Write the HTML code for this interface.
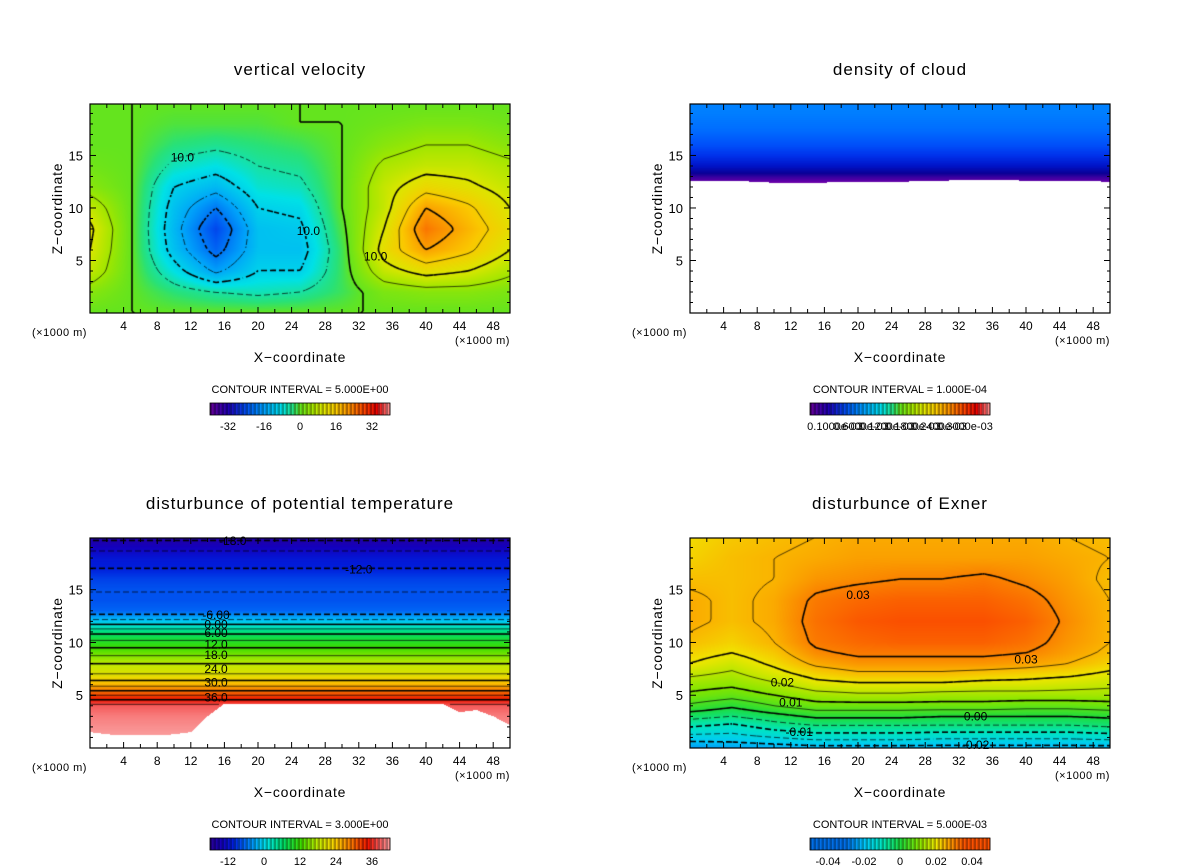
<!DOCTYPE html>
<html><head><meta charset="utf-8"><style>
html,body{margin:0;padding:0;background:#fff;width:1200px;height:868px;overflow:hidden}
canvas{position:absolute}
svg{position:absolute;left:0;top:0}
</style></head><body>
<canvas id="c0" width="420" height="209" style="left:90px;top:104px"></canvas>
<canvas id="c1" width="420" height="209" style="left:690px;top:104px"></canvas>
<canvas id="c2" width="420" height="210" style="left:90px;top:538px"></canvas>
<canvas id="c3" width="420" height="210" style="left:690px;top:538px"></canvas>
<svg id="ov" width="1200" height="868" font-family="Liberation Sans, sans-serif"></svg>
<script>
// ---------- DATA ----------
const wX=[0,5,10,15,20,25,30,35,40,45,50];
const wZ=[0,2,4,6,8,10,12,14,16,18,20];
const wVals=[
[0,0,0,0,0,0,0,0,0,0,0],
[3,0,-3,-5,-6,-5,-2,2,3,3,2],
[8,0,-8,-16,-10,-10,-2,8,12,10,6],
[10,0,-12,-22,-12,-12,-2,12,20,16,10],
[11,0,-13,-25,-12,-11,-1,10,24,18,12],
[8,0,-12,-20,-10,-9,0,8,20,16,10],
[3,0,-10,-13,-7,-6,0,8,13,11,8],
[1,0,-6,-8,-5,-4,0,6,8,8,6],
[0,0,-3,-4,-3,-2,0,3,5,5,3],
[0,0,-1,-1,-1,0,0,1,2,2,1],
[0,0,0,0,0,0,0,0,0,0,0]];
const cloudZ=[12.4,12.9,13.3,14,15,16,17,18,19,20];
const cloudVal=[0.1,0.15,0.2,0.25,0.32,0.4,0.47,0.53,0.58,0.6];
const cloudBaseX=[0,5,10,15,20,25,30,35,40,45,50];
const cloudBase=[12.6,12.6,12.4,12.4,12.5,12.5,12.6,12.7,12.6,12.6,12.5];
const thZ=[0,1,2,3,4,5,6,7,8,9,10,11,12,13,14,15,16,17,18,19,20];
const thVal=[45,44,43,42,40,33,26,21,18,14,10,5,-2,-8,-9,-9,-10,-12,-13,-16,-19];
const thMaskX=[0,2,4,6,8,10,12,14,16,18,20,22,24,26,28,30,32,34,36,38,40,42,44,46,48,50];
const thMask=[1.5,1.3,1.2,1.2,1.2,1.3,1.5,3.0,4.2,4.2,4.2,4.2,4.2,4.2,4.2,4.2,4.2,4.2,4.2,4.2,4.2,4.2,3.4,3.6,3.0,2.2];
const exX=[0,5,10,15,20,25,30,35,40,45,50];
const exZ=[0,1,2,3,4,5,6,7,8,9,10,12,14,16,18,20];
const exVals=[
[-.025,-.024,-.023,-.022,-.022,-.022,-.022,-.022,-.022,-.022,-.022],
[-.017,-.017,-.015,-.013,-.013,-.013,-.014,-.014,-.014,-.014,-.013],
[-.010,-.012,-.008,-.006,-.006,-.006,-.006,-.006,-.006,-.006,-.005],
[-.003,-.005,-.002,.001,.001,.001,.000,.000,.000,.000,.001],
[.004,.001,.005,.008,.008,.008,.008,.008,.007,.007,.008],
[.009,.007,.010,.013,.014,.014,.013,.013,.013,.013,.013],
[.012,.011,.014,.018,.019,.019,.019,.018,.018,.017,.016],
[.016,.014,.018,.022,.024,.024,.024,.023,.022,.021,.019],
[.020,.017,.021,.026,.028,.028,.028,.028,.027,.025,.022],
[.022,.020,.023,.029,.031,.031,.031,.031,.030,.027,.024],
[.024,.022,.025,.031,.033,.034,.034,.034,.032,.028,.025],
[.026,.024,.026,.032,.035,.036,.036,.036,.034,.029,.025],
[.026,.024,.026,.031,.033,.034,.034,.034,.032,.028,.025],
[.024,.024,.025,.028,.029,.030,.030,.031,.029,.027,.024],
[.022,.024,.025,.026,.027,.027,.027,.027,.027,.026,.025],
[.021,.023,.024,.025,.026,.026,.026,.026,.026,.025,.024]];
const xTicks=[4,8,12,16,20,24,28,32,36,40,44,48];
const zTicks=[5,10,15];
const titles=["vertical velocity","density of cloud","disturbunce of potential temperature","disturbunce of Exner"];
const intervals=["CONTOUR INTERVAL = 5.000E+00","CONTOUR INTERVAL = 1.000E-04","CONTOUR INTERVAL = 3.000E+00","CONTOUR INTERVAL = 5.000E-03"];
const cbLabels=[["-32","-16","0","16","32"],["0.1000e-03","0.6000e-03","0.1200e-03","0.1800e-03","0.2400e-03","0.3000e-03"],["-12","0","12","24","36"],["-0.04","-0.02","0","0.02","0.04"]];
// ---------- colour maps ----------
const wStops=[[-40,100,0,150],[-32,30,0,180],[-24,0,80,240],[-16,0,160,250],[-8,0,225,230],[-3,40,225,120],[0,100,228,30],[5,160,230,0],[10,220,230,0],[16,250,200,0],[22,250,140,0],[28,250,70,0],[34,230,0,0],[40,250,150,150]];
const thStops=[[-20,40,0,150],[-16,20,0,190],[-12,0,30,220],[-8,0,100,245],[-4,0,170,250],[0,0,230,230],[6,0,220,100],[12,60,220,0],[18,190,235,0],[24,250,210,0],[30,250,120,0],[36,240,20,0],[40,245,90,90],[44,250,160,160]];
const exStops=[[-0.03,0,110,230],[-0.025,0,150,240],[-0.02,0,200,250],[-0.01,0,230,190],[0,30,220,60],[0.01,130,230,0],[0.02,240,230,0],[0.025,250,180,0],[0.03,250,130,0],[0.036,250,80,0]];
const clStops=[[0.1,110,0,170],[0.15,60,0,160],[0.2,10,0,150],[0.25,0,20,200],[0.32,0,50,235],[0.4,0,80,250],[0.5,0,110,255],[0.6,0,130,255]];
function cmap(st,v){if(v<=st[0][0])return st[0].slice(1);for(let i=1;i<st.length;i++){if(v<=st[i][0]){const a=st[i-1],b=st[i],t=(v-a[0])/(b[0]-a[0]);return [a[1]+t*(b[1]-a[1]),a[2]+t*(b[2]-a[2]),a[3]+t*(b[3]-a[3])];}}return st[st.length-1].slice(1);}
function seg(arr,v){let i=0;while(i<arr.length-2&&v>arr[i+1])i++;let t=(v-arr[i])/(arr[i+1]-arr[i]);t=Math.max(0,Math.min(1,t));return [i,t];}
function interp1(xs,ys,v){const [i,t]=seg(xs,v);return ys[i]+t*(ys[i+1]-ys[i]);}
function interp2(xs,zs,g,x,z){const [i,tx]=seg(xs,x),[j,tz]=seg(zs,z);const a=g[j][i],b=g[j][i+1],c=g[j+1][i],d=g[j+1][i+1];return (a*(1-tx)+b*tx)*(1-tz)+(c*(1-tx)+d*tx)*tz;}
const ZMAX=19.9;
const fields=[
 {f:(x,z)=>interp2(wX,wZ,wVals,x,z),st:wStops,levels:[-20,-15,-10,-5,0,5,10,15,20],bold:v=>v%10===0},
 {f:(x,z)=>z<interp1(cloudBaseX,cloudBase,x)?NaN:interp1(cloudZ,cloudVal,z),st:clStops,levels:[],bold:v=>false},
 {f:(x,z)=>z<interp1(thMaskX,thMask,x)?NaN:interp1(thZ,thVal,z),st:thStops,levels:[-18,-15,-12,-9,-6,-3,0,3,6,9,12,15,18,21,24,27,30,33,36,39],bold:v=>v%6===0},
 {f:(x,z)=>interp2(exX,exZ,exVals,x,z),st:exStops,levels:[-0.02,-0.015,-0.01,-0.005,0,0.005,0.01,0.015,0.02,0.025,0.03],bold:v=>Math.abs(Math.round(v*1000))%10===0}
];
fields.forEach((F,k)=>{
 const cv=document.getElementById('c'+k),ctx=cv.getContext('2d'),W=cv.width,H=cv.height;
 const xs=px=>px/W*50, zs=py=>(H-py)/H*ZMAX;
 const im=ctx.createImageData(W,H);
 for(let py=0;py<H;py++)for(let px=0;px<W;px++){const v=F.f(xs(px+.5),zs(py+.5));const o=(py*W+px)*4;if(isNaN(v)){im.data[o]=255;im.data[o+1]=255;im.data[o+2]=255;}else{const c=cmap(F.st,v);im.data[o]=c[0];im.data[o+1]=c[1];im.data[o+2]=c[2];}im.data[o+3]=255;}
 ctx.putImageData(im,0,0);
 const S=3,nx=Math.ceil(W/S)+1,nz=Math.ceil(H/S)+1,G=[];
 for(let j=0;j<nz;j++){G.push([]);for(let i=0;i<nx;i++)G[j].push(F.f(xs(i*S),zs(j*S)));}
 F.levels.forEach(L=>{
  ctx.strokeStyle='#000';ctx.lineWidth=F.bold(L)?1.6:0.7;
  let cnt=0;
  for(let j=0;j<nz-1;j++)for(let i=0;i<nx-1;i++){
   const a=G[j][i],b=G[j][i+1],c=G[j+1][i+1],d=G[j+1][i];
   if([a,b,c,d].some(isNaN))continue;
   const pts=[];
   const e=(v1,v2,x1,y1,x2,y2)=>{if((v1<L)!==(v2<L)){const t=(L-v1)/(v2-v1);pts.push([x1+t*(x2-x1),y1+t*(y2-y1)]);}};
   const X=i*S,Y=j*S;
   e(a,b,X,Y,X+S,Y);e(b,c,X+S,Y,X+S,Y+S);e(d,c,X,Y+S,X+S,Y+S);e(a,d,X,Y,X,Y+S);
   for(let p=0;p+1<pts.length;p+=2){
    if(L<0){cnt++;if(((i+j)%3)===0)continue;}
    ctx.beginPath();ctx.moveTo(pts[p][0],pts[p][1]);ctx.lineTo(pts[p+1][0],pts[p+1][1]);ctx.stroke();}
  }
 });
});
// ---------- overlay ----------
const NS='http://www.w3.org/2000/svg',ov=document.getElementById('ov');
function el(tag,at,parent,txt){const e=document.createElementNS(NS,tag);for(const k in at)e.setAttribute(k,at[k]);if(txt!==undefined)e.textContent=txt;(parent||ov).appendChild(e);return e;}
const panels=[[90,104,209],[690,104,209],[90,538,210],[690,538,210]];
const cbStopsList=[[wStops,-40,40],[wStops,-40,40],[thStops,-20,44],[exStops,-0.05,0.05]];
panels.forEach(([ox,oy,h],k)=>{
 const g=el('g',{});
 
 
 const W=420,sx=v=>ox+v/50*W,sz=v=>oy+h-v/ZMAX*h;
 const t=el('text',{x:ox+210,y:oy-29,'text-anchor':'middle','font-size':17,'letter-spacing':1},g,titles[k]);
 
 
 const fr=el('rect',{x:ox,y:oy,width:W,height:h,fill:'none',stroke:'#000','stroke-width':1.2},g);
 
 
 for(let v=2;v<50;v+=2){const L=v%4===0?6:4,x=sx(v);el('line',{x1:x,y1:oy+h,x2:x,y2:oy+h-L,stroke:'#000'},g);el('line',{x1:x,y1:oy,x2:x,y2:oy+L,stroke:'#000'},g);}
 for(let v=1;v<20;v++){const L=v%5===0?6:3,y=sz(v);el('line',{x1:ox,y1:y,x2:ox+L,y2:y,stroke:'#000'},g);el('line',{x1:ox+W,y1:y,x2:ox+W-L,y2:y,stroke:'#000'},g);}
 xTicks.forEach(v=>{const tx=el('text',{x:sx(v),y:oy+h+17,'text-anchor':'middle','font-size':12},g,String(v));});
 zTicks.forEach(v=>{const tz=el('text',{x:ox-7,y:sz(v)+5,'text-anchor':'end','font-size':13},g,String(v));});
 const u1=el('text',{x:ox-58,y:oy+h+23,'font-size':11,'letter-spacing':0.5},g,'(×1000 m)');
 const u2=el('text',{x:ox+365,y:oy+h+31,'font-size':11,'letter-spacing':0.5},g,'(×1000 m)');
 const xt=el('text',{x:ox+210,y:oy+h+49,'text-anchor':'middle','font-size':14,'letter-spacing':0.8},g,'X−coordinate');
 const zt=el('text',{x:0,y:0,'text-anchor':'middle','font-size':14,'letter-spacing':0.8,transform:`translate(${ox-28},${oy+h/2}) rotate(-90)`},g,'Z−coordinate');
 const ci=el('text',{x:ox+210,y:oy+h+80,'text-anchor':'middle','font-size':11},g,intervals[k]);
 const cb=el('g',{},g);
 const [cst,vmin,vmax]=cbStopsList[k],bx=ox+120,by=oy+h+90,N=45,bw=180/N;
 for(let i=0;i<N;i++){const c=cmap(cst,vmin+(i+.5)/N*(vmax-vmin)).map(v=>Math.round(v*0.7));el('rect',{x:bx+i*bw,y:by,width:bw+0.3,height:12,fill:`rgb(${c})`},cb);const c2=cmap(cst,vmin+(i+.5)/N*(vmax-vmin)).map(Math.round);el('rect',{x:bx+i*bw+bw*0.5,y:by,width:bw*0.4,height:12,fill:`rgb(${c2})`},cb);}
 el('rect',{x:bx,y:by,width:180,height:12,fill:'none',stroke:'#000','stroke-width':0.8},cb);
 const labs=cbLabels[k];
 labs.forEach((s,i)=>{const x=k===1?bx+25+i*26:bx+18+i*36;const tl=el('text',{x:x,y:by+27,'text-anchor':'middle','font-size':11},cb,s);});
});
const clabs=[
 [2,["-18.0",17,19.6],["-12.0",32,16.9],["-6.00",15,12.6],["0.00",15,11.7],["6.00",15,10.9],["12.0",15,9.8],["18.0",15,8.8],["24.0",15,7.5],["30.0",15,6.2],["36.0",15,4.8]],
 [3,["0.03",20,14.5],["0.03",40,8.4],["0.02",11,6.2],["0.01",12,4.3],["0.00",34,3.0],["-0.01",13,1.5],["-0.02",34,0.3]],
 [0,["10.0",11,14.8],["10.0",26,7.8],["10.0",34,5.4]]
];
clabs.forEach(([k,...items])=>{const [ox,oy,h]=panels[k];items.forEach(([s,x,z])=>{const px=ox+x/50*420,py=oy+h-z/ZMAX*h;const t=el('text',{x:px,y:py+4,'text-anchor':'middle','font-size':12},ov,s);});});
</script>
</body></html>
